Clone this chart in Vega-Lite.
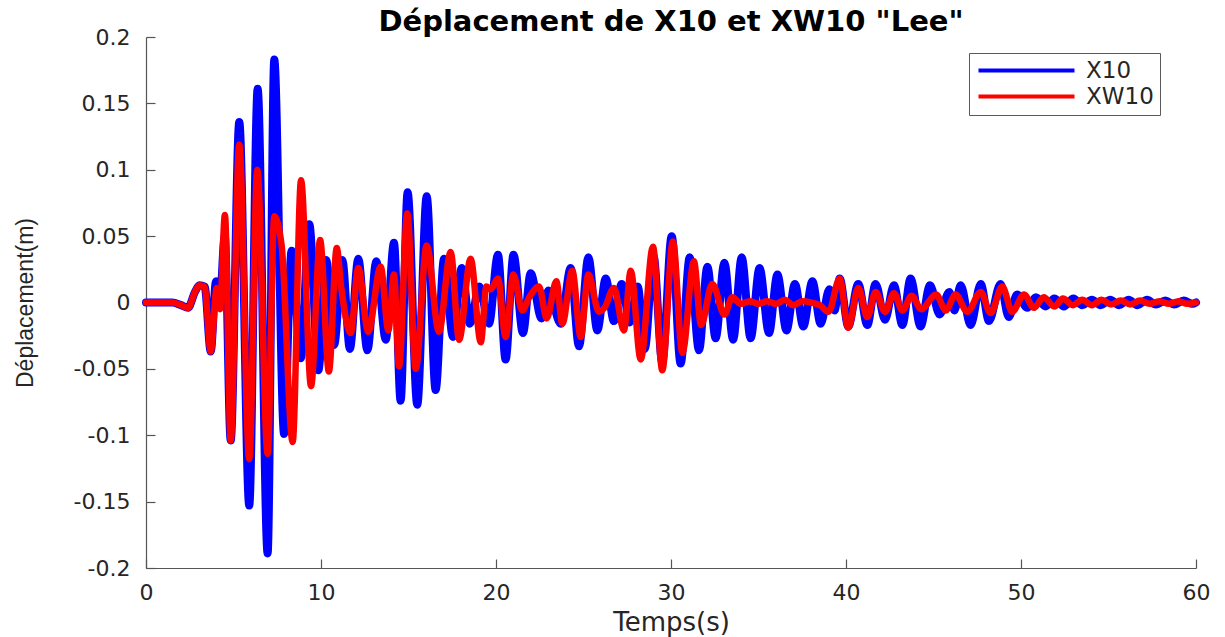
{
  "$schema": "https://vega.github.io/schema/vega-lite/v6.json",
  "width": 1050,
  "height": 531,
  "autosize": {"type": "none"},
  "padding": {"left": 146, "top": 37, "right": 29, "bottom": 69},
  "background": "white",
  "title": {
    "text": "Déplacement de X10 et XW10 \"Lee\"",
    "font": "DejaVu Sans",
    "fontSize": 29,
    "fontWeight": "bold",
    "color": "#000000",
    "anchor": "middle",
    "offset": 4,
    "dy": 15
  },
  "config": {
    "view": {"stroke": null},
    "axis": {
      "grid": false,
      "domainColor": "#555555",
      "domainWidth": 1.2,
      "tickColor": "#555555",
      "tickWidth": 1.2,
      "tickSize": -9,
      "labelFont": "DejaVu Sans",
      "labelFontSize": 22,
      "labelColor": "#262626",
      "labelFlush": false,
      "labelOverlap": false,
      "titleColor": "#262626",
      "titleFontWeight": "normal"
    }
  },
  "data": {
    "values": [
      {"t": 0, "v": 0, "s": "X10"},
      {"t": 1.5, "v": 0, "s": "X10"},
      {"t": 2.0, "v": -0.002, "s": "X10"},
      {"t": 2.4, "v": -0.004, "s": "X10"},
      {"t": 2.8, "v": 0.008, "s": "X10"},
      {"t": 3.05, "v": 0.013, "s": "X10"},
      {"t": 3.35, "v": 0.012, "s": "X10"},
      {"t": 3.7, "v": -0.037, "s": "X10"},
      {"t": 4.0, "v": 0.016, "s": "X10"},
      {"t": 4.2, "v": -0.002, "s": "X10"},
      {"t": 4.5, "v": 0.05, "s": "X10"},
      {"t": 4.84, "v": -0.104, "s": "X10"},
      {"t": 5.33, "v": 0.136, "s": "X10"},
      {"t": 5.9, "v": -0.153, "s": "X10"},
      {"t": 6.38, "v": 0.161, "s": "X10"},
      {"t": 6.95, "v": -0.189, "s": "X10"},
      {"t": 7.33, "v": 0.183, "s": "X10"},
      {"t": 7.89, "v": -0.099, "s": "X10"},
      {"t": 8.32, "v": 0.039, "s": "X10"},
      {"t": 8.84, "v": -0.042, "s": "X10"},
      {"t": 9.33, "v": 0.059, "s": "X10"},
      {"t": 9.85, "v": -0.051, "s": "X10"},
      {"t": 10.3, "v": 0.032, "s": "X10"},
      {"t": 10.75, "v": -0.032, "s": "X10"},
      {"t": 11.22, "v": 0.032, "s": "X10"},
      {"t": 11.65, "v": -0.035, "s": "X10"},
      {"t": 12.13, "v": 0.033, "s": "X10"},
      {"t": 12.65, "v": -0.036, "s": "X10"},
      {"t": 13.16, "v": 0.031, "s": "X10"},
      {"t": 13.7, "v": -0.028, "s": "X10"},
      {"t": 14.17, "v": 0.045, "s": "X10"},
      {"t": 14.55, "v": -0.074, "s": "X10"},
      {"t": 14.95, "v": 0.083, "s": "X10"},
      {"t": 15.5, "v": -0.077, "s": "X10"},
      {"t": 16.04, "v": 0.08, "s": "X10"},
      {"t": 16.55, "v": -0.066, "s": "X10"},
      {"t": 17.03, "v": 0.033, "s": "X10"},
      {"t": 17.54, "v": -0.026, "s": "X10"},
      {"t": 18.04, "v": 0.026, "s": "X10"},
      {"t": 18.51, "v": -0.016, "s": "X10"},
      {"t": 19.05, "v": 0.012, "s": "X10"},
      {"t": 19.6, "v": -0.016, "s": "X10"},
      {"t": 20.11, "v": 0.036, "s": "X10"},
      {"t": 20.55, "v": -0.043, "s": "X10"},
      {"t": 21.0, "v": 0.036, "s": "X10"},
      {"t": 21.54, "v": -0.023, "s": "X10"},
      {"t": 21.98, "v": 0.022, "s": "X10"},
      {"t": 22.6, "v": -0.012, "s": "X10"},
      {"t": 22.99, "v": 0.009, "s": "X10"},
      {"t": 23.7, "v": -0.016, "s": "X10"},
      {"t": 24.27, "v": 0.026, "s": "X10"},
      {"t": 24.74, "v": -0.033, "s": "X10"},
      {"t": 25.28, "v": 0.034, "s": "X10"},
      {"t": 25.79, "v": -0.021, "s": "X10"},
      {"t": 26.27, "v": 0.018, "s": "X10"},
      {"t": 26.74, "v": -0.014, "s": "X10"},
      {"t": 27.18, "v": 0.014, "s": "X10"},
      {"t": 27.65, "v": -0.015, "s": "X10"},
      {"t": 28.1, "v": 0.012, "s": "X10"},
      {"t": 28.5, "v": -0.035, "s": "X10"},
      {"t": 29.0, "v": 0.035, "s": "X10"},
      {"t": 29.5, "v": -0.045, "s": "X10"},
      {"t": 30.04, "v": 0.05, "s": "X10"},
      {"t": 30.55, "v": -0.046, "s": "X10"},
      {"t": 31.07, "v": 0.034, "s": "X10"},
      {"t": 31.6, "v": -0.036, "s": "X10"},
      {"t": 32.08, "v": 0.027, "s": "X10"},
      {"t": 32.55, "v": -0.027, "s": "X10"},
      {"t": 33.05, "v": 0.03, "s": "X10"},
      {"t": 33.55, "v": -0.028, "s": "X10"},
      {"t": 34.04, "v": 0.034, "s": "X10"},
      {"t": 34.55, "v": -0.027, "s": "X10"},
      {"t": 35.06, "v": 0.026, "s": "X10"},
      {"t": 35.6, "v": -0.023, "s": "X10"},
      {"t": 36.08, "v": 0.021, "s": "X10"},
      {"t": 36.6, "v": -0.021, "s": "X10"},
      {"t": 37.08, "v": 0.014, "s": "X10"},
      {"t": 37.56, "v": -0.018, "s": "X10"},
      {"t": 38.08, "v": 0.016, "s": "X10"},
      {"t": 38.55, "v": -0.016, "s": "X10"},
      {"t": 39.05, "v": 0.01, "s": "X10"},
      {"t": 39.35, "v": -0.006, "s": "X10"},
      {"t": 39.64, "v": 0.018, "s": "X10"},
      {"t": 40.13, "v": -0.018, "s": "X10"},
      {"t": 40.7, "v": 0.014, "s": "X10"},
      {"t": 41.22, "v": -0.017, "s": "X10"},
      {"t": 41.69, "v": 0.014, "s": "X10"},
      {"t": 42.23, "v": -0.013, "s": "X10"},
      {"t": 42.74, "v": 0.013, "s": "X10"},
      {"t": 43.22, "v": -0.017, "s": "X10"},
      {"t": 43.69, "v": 0.018, "s": "X10"},
      {"t": 44.26, "v": -0.018, "s": "X10"},
      {"t": 44.8, "v": 0.013, "s": "X10"},
      {"t": 45.35, "v": -0.009, "s": "X10"},
      {"t": 45.9, "v": 0.008, "s": "X10"},
      {"t": 46.2, "v": -0.006, "s": "X10"},
      {"t": 46.55, "v": 0.013, "s": "X10"},
      {"t": 47.12, "v": -0.017, "s": "X10"},
      {"t": 47.7, "v": 0.014, "s": "X10"},
      {"t": 48.17, "v": -0.014, "s": "X10"},
      {"t": 48.83, "v": 0.014, "s": "X10"},
      {"t": 49.3, "v": -0.011, "s": "X10"},
      {"t": 49.78, "v": 0.006, "s": "X10"},
      {"t": 50.36, "v": -0.004, "s": "X10"},
      {"t": 50.85, "v": 0.004, "s": "X10"},
      {"t": 51.4, "v": -0.003, "s": "X10"},
      {"t": 51.9, "v": 0.003, "s": "X10"},
      {"t": 52.45, "v": -0.003, "s": "X10"},
      {"t": 53.0, "v": 0.003, "s": "X10"},
      {"t": 53.5, "v": -0.002, "s": "X10"},
      {"t": 54.05, "v": 0.002, "s": "X10"},
      {"t": 54.55, "v": -0.002, "s": "X10"},
      {"t": 55.1, "v": 0.002, "s": "X10"},
      {"t": 55.6, "v": -0.002, "s": "X10"},
      {"t": 56.15, "v": 0.002, "s": "X10"},
      {"t": 56.65, "v": -0.002, "s": "X10"},
      {"t": 57.2, "v": 0.002, "s": "X10"},
      {"t": 57.7, "v": -0.0015, "s": "X10"},
      {"t": 58.25, "v": 0.0015, "s": "X10"},
      {"t": 58.75, "v": -0.0015, "s": "X10"},
      {"t": 59.3, "v": 0.0015, "s": "X10"},
      {"t": 59.8, "v": -0.001, "s": "X10"},
      {"t": 60, "v": 0, "s": "X10"},
      {"t": 0, "v": 0, "s": "XW10"},
      {"t": 1.5, "v": 0, "s": "XW10"},
      {"t": 2.0, "v": -0.002, "s": "XW10"},
      {"t": 2.4, "v": -0.004, "s": "XW10"},
      {"t": 2.8, "v": 0.008, "s": "XW10"},
      {"t": 3.05, "v": 0.013, "s": "XW10"},
      {"t": 3.35, "v": 0.012, "s": "XW10"},
      {"t": 3.7, "v": -0.037, "s": "XW10"},
      {"t": 4.04, "v": 0.011, "s": "XW10"},
      {"t": 4.23, "v": -0.005, "s": "XW10"},
      {"t": 4.51, "v": 0.066, "s": "XW10"},
      {"t": 4.84, "v": -0.104, "s": "XW10"},
      {"t": 5.33, "v": 0.119, "s": "XW10"},
      {"t": 5.9, "v": -0.118, "s": "XW10"},
      {"t": 6.36, "v": 0.1, "s": "XW10"},
      {"t": 6.95, "v": -0.114, "s": "XW10"},
      {"t": 7.33, "v": 0.065, "s": "XW10"},
      {"t": 7.75, "v": 0.043, "s": "XW10"},
      {"t": 8.38, "v": -0.105, "s": "XW10"},
      {"t": 8.86, "v": 0.092, "s": "XW10"},
      {"t": 9.43, "v": -0.063, "s": "XW10"},
      {"t": 9.95, "v": 0.047, "s": "XW10"},
      {"t": 10.45, "v": -0.052, "s": "XW10"},
      {"t": 10.9, "v": 0.041, "s": "XW10"},
      {"t": 11.15, "v": 0.012, "s": "XW10"},
      {"t": 11.7, "v": -0.023, "s": "XW10"},
      {"t": 12.13, "v": 0.026, "s": "XW10"},
      {"t": 12.7, "v": -0.022, "s": "XW10"},
      {"t": 13.41, "v": 0.027, "s": "XW10"},
      {"t": 13.85, "v": -0.021, "s": "XW10"},
      {"t": 14.17, "v": 0.021, "s": "XW10"},
      {"t": 14.46, "v": -0.048, "s": "XW10"},
      {"t": 14.93, "v": 0.067, "s": "XW10"},
      {"t": 15.41, "v": -0.05, "s": "XW10"},
      {"t": 16.04, "v": 0.043, "s": "XW10"},
      {"t": 16.74, "v": -0.022, "s": "XW10"},
      {"t": 17.41, "v": 0.038, "s": "XW10"},
      {"t": 17.89, "v": -0.028, "s": "XW10"},
      {"t": 18.55, "v": 0.033, "s": "XW10"},
      {"t": 19.13, "v": -0.03, "s": "XW10"},
      {"t": 19.45, "v": 0.012, "s": "XW10"},
      {"t": 19.7, "v": 0.01, "s": "XW10"},
      {"t": 20.11, "v": 0.018, "s": "XW10"},
      {"t": 20.55, "v": -0.026, "s": "XW10"},
      {"t": 20.99, "v": 0.021, "s": "XW10"},
      {"t": 21.5, "v": -0.006, "s": "XW10"},
      {"t": 21.9, "v": 0.004, "s": "XW10"},
      {"t": 22.46, "v": 0.012, "s": "XW10"},
      {"t": 22.9, "v": -0.012, "s": "XW10"},
      {"t": 23.45, "v": 0.016, "s": "XW10"},
      {"t": 23.79, "v": -0.016, "s": "XW10"},
      {"t": 24.36, "v": 0.024, "s": "XW10"},
      {"t": 24.84, "v": -0.026, "s": "XW10"},
      {"t": 25.28, "v": 0.021, "s": "XW10"},
      {"t": 25.88, "v": -0.007, "s": "XW10"},
      {"t": 26.2, "v": -0.004, "s": "XW10"},
      {"t": 26.74, "v": 0.011, "s": "XW10"},
      {"t": 27.31, "v": -0.021, "s": "XW10"},
      {"t": 27.7, "v": 0.024, "s": "XW10"},
      {"t": 28.27, "v": -0.043, "s": "XW10"},
      {"t": 28.97, "v": 0.042, "s": "XW10"},
      {"t": 29.5, "v": -0.051, "s": "XW10"},
      {"t": 30.11, "v": 0.046, "s": "XW10"},
      {"t": 30.65, "v": -0.038, "s": "XW10"},
      {"t": 31.31, "v": 0.031, "s": "XW10"},
      {"t": 31.72, "v": -0.017, "s": "XW10"},
      {"t": 32.36, "v": 0.014, "s": "XW10"},
      {"t": 33.05, "v": -0.009, "s": "XW10"},
      {"t": 33.5, "v": 0.004, "s": "XW10"},
      {"t": 34.0, "v": -0.001, "s": "XW10"},
      {"t": 34.5, "v": 0.001, "s": "XW10"},
      {"t": 35.0, "v": -0.001, "s": "XW10"},
      {"t": 35.5, "v": 0.001, "s": "XW10"},
      {"t": 36.0, "v": -0.001, "s": "XW10"},
      {"t": 36.5, "v": 0.002, "s": "XW10"},
      {"t": 37.0, "v": -0.002, "s": "XW10"},
      {"t": 37.5, "v": 0.001, "s": "XW10"},
      {"t": 38.0, "v": 0.0, "s": "XW10"},
      {"t": 38.5, "v": -0.002, "s": "XW10"},
      {"t": 39.0, "v": -0.007, "s": "XW10"},
      {"t": 39.64, "v": 0.018, "s": "XW10"},
      {"t": 40.13, "v": -0.019, "s": "XW10"},
      {"t": 40.7, "v": 0.011, "s": "XW10"},
      {"t": 41.22, "v": -0.011, "s": "XW10"},
      {"t": 41.69, "v": 0.008, "s": "XW10"},
      {"t": 42.23, "v": -0.007, "s": "XW10"},
      {"t": 42.74, "v": 0.007, "s": "XW10"},
      {"t": 43.22, "v": -0.006, "s": "XW10"},
      {"t": 43.75, "v": 0.005, "s": "XW10"},
      {"t": 44.3, "v": -0.005, "s": "XW10"},
      {"t": 45.15, "v": 0.006, "s": "XW10"},
      {"t": 45.7, "v": -0.006, "s": "XW10"},
      {"t": 46.26, "v": 0.006, "s": "XW10"},
      {"t": 46.93, "v": -0.007, "s": "XW10"},
      {"t": 47.7, "v": 0.008, "s": "XW10"},
      {"t": 48.26, "v": -0.008, "s": "XW10"},
      {"t": 48.93, "v": 0.012, "s": "XW10"},
      {"t": 49.5, "v": -0.007, "s": "XW10"},
      {"t": 50.17, "v": 0.006, "s": "XW10"},
      {"t": 50.74, "v": -0.004, "s": "XW10"},
      {"t": 51.3, "v": 0.004, "s": "XW10"},
      {"t": 51.9, "v": -0.003, "s": "XW10"},
      {"t": 52.4, "v": 0.003, "s": "XW10"},
      {"t": 52.95, "v": -0.002, "s": "XW10"},
      {"t": 53.5, "v": 0.002, "s": "XW10"},
      {"t": 54.05, "v": -0.002, "s": "XW10"},
      {"t": 54.6, "v": 0.002, "s": "XW10"},
      {"t": 55.15, "v": -0.0015, "s": "XW10"},
      {"t": 55.7, "v": 0.0015, "s": "XW10"},
      {"t": 56.25, "v": -0.0015, "s": "XW10"},
      {"t": 56.8, "v": 0.0015, "s": "XW10"},
      {"t": 57.35, "v": -0.001, "s": "XW10"},
      {"t": 57.9, "v": 0.001, "s": "XW10"},
      {"t": 58.45, "v": -0.001, "s": "XW10"},
      {"t": 59.0, "v": 0.001, "s": "XW10"},
      {"t": 59.5, "v": -0.001, "s": "XW10"},
      {"t": 60, "v": 0, "s": "XW10"}
    ]
  },
  "encoding": {
    "x": {
      "field": "t",
      "type": "quantitative",
      "scale": {"domain": [0, 60], "nice": false, "zero": false},
      "axis": {
        "title": "Temps(s)",
        "values": [0, 10, 20, 30, 40, 50, 60],
        "format": "d",
        "labelPadding": 23,
        "titleFont": "DejaVu Sans",
        "titleFontSize": 26,
        "titlePadding": 6
      }
    },
    "y": {
      "field": "v",
      "type": "quantitative",
      "scale": {"domain": [-0.2, 0.2], "nice": false, "zero": false},
      "axis": {
        "title": "Déplacement(m)",
        "values": [-0.2, -0.15, -0.1, -0.05, 0, 0.05, 0.1, 0.15, 0.2],
        "labelExpr": "replace(format(datum.value, '.2~f'), '\u2212', '-')",
        "labelPadding": 25,
        "titleFont": "Liberation Sans",
        "titleFontSize": 23,
        "titlePadding": 36
      }
    },
    "color": {
      "field": "s",
      "type": "nominal",
      "scale": {"domain": ["X10", "XW10"], "range": ["#0000ff", "#ff0000"]},
      "legend": {
        "orient": "none",
        "legendX": 823,
        "legendY": 16,
        "title": null,
        "symbolType": "M-1,0H11",
        "symbolSize": 256,
        "symbolStrokeWidth": 4,
        "symbolFillColor": "transparent",
        "labelFont": "DejaVu Sans",
        "labelFontSize": 23,
        "labelColor": "#262626",
        "labelOffset": 88,
        "padding": 6,
        "rowPadding": 2,
        "strokeColor": "#5a5a5a",
        "fillColor": "#ffffff"
      }
    }
  },
  "layer": [
    {
      "transform": [{"filter": "datum.s === 'X10'"}],
      "mark": {"type": "line", "interpolate": "monotone", "strokeWidth": 8, "strokeCap": "round", "strokeJoin": "round"}
    },
    {
      "transform": [{"filter": "datum.s === 'XW10'"}],
      "mark": {"type": "line", "interpolate": "monotone", "strokeWidth": 6.5, "strokeCap": "round", "strokeJoin": "round"}
    }
  ]
}
